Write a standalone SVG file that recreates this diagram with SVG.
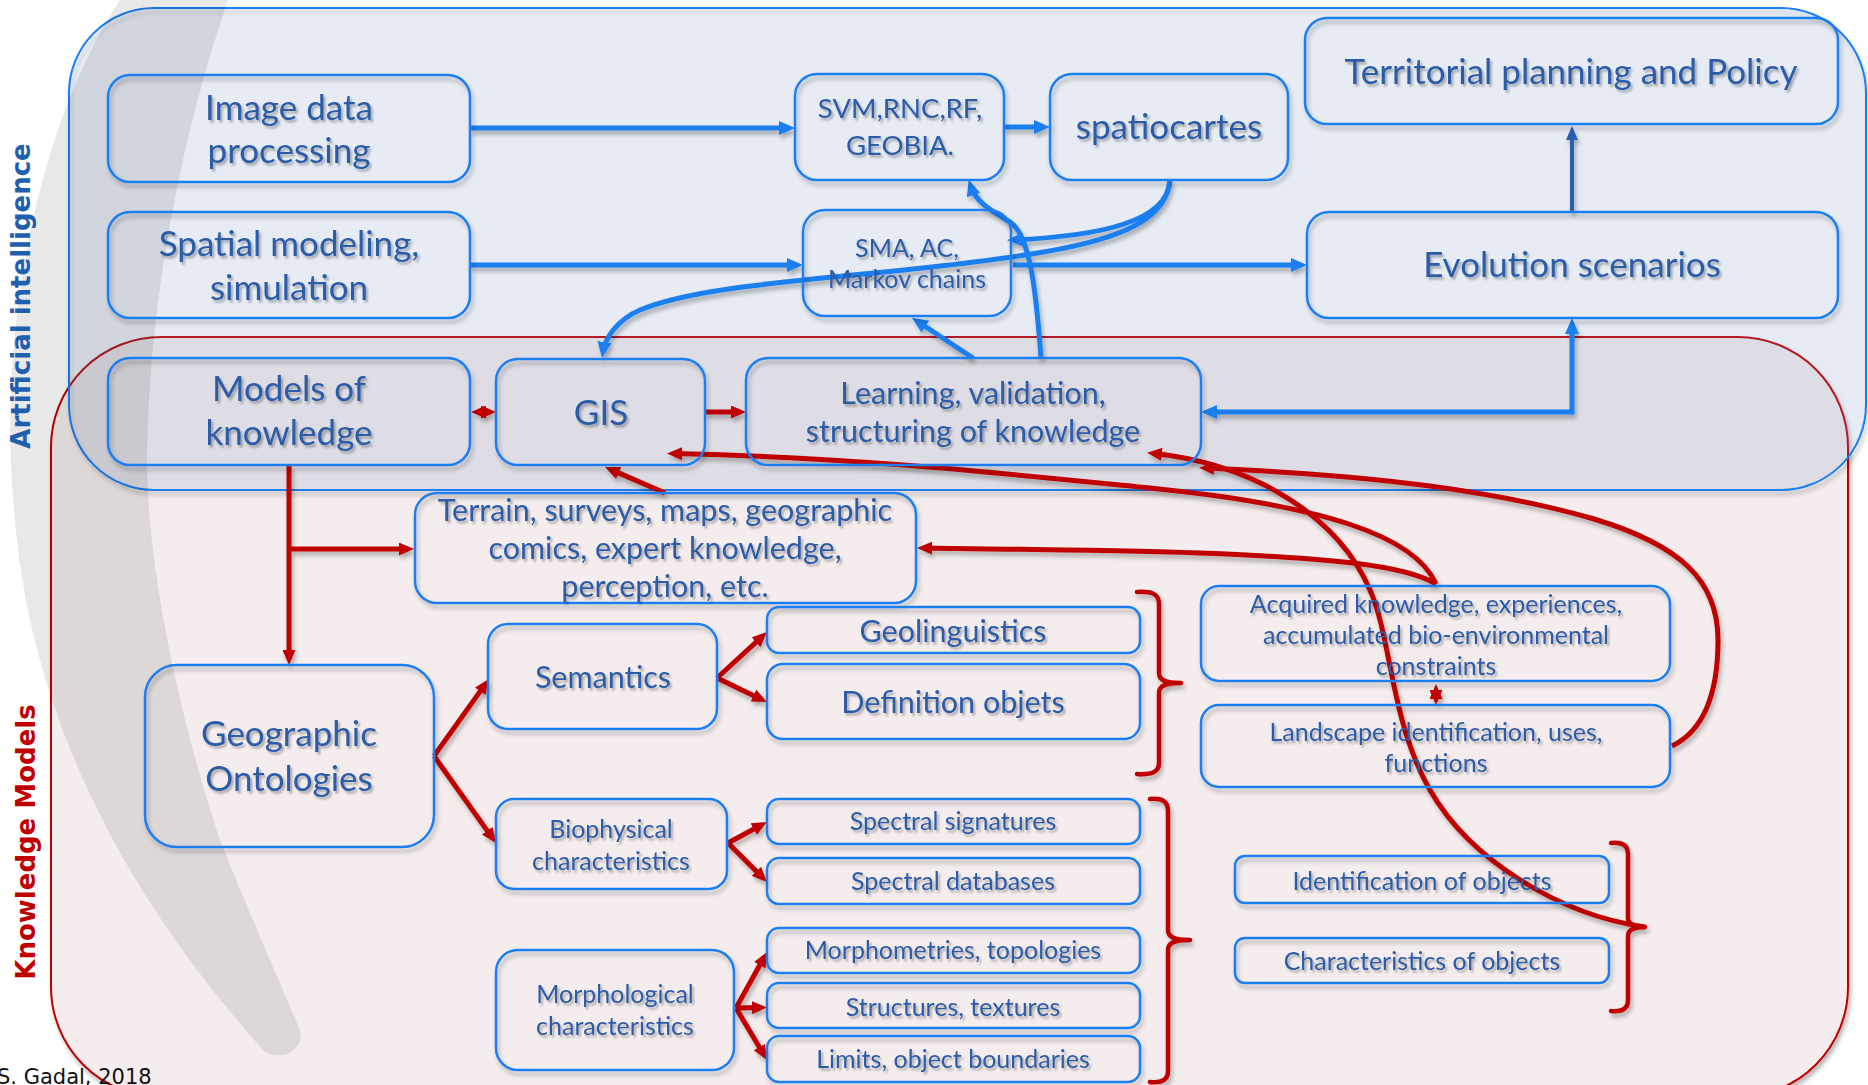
<svg xmlns="http://www.w3.org/2000/svg" width="1868" height="1085" viewBox="0 0 1868 1085">
<defs>
<style>
.box{fill:none;stroke:#1e7ef0;stroke-width:2.5}
.t{font-family:Lato,"Open Sans",sans-serif;fill:#2c5ba8;text-anchor:middle}
.f35{font-size:35px}.f30{font-size:30.5px}.f27{font-size:27.5px}.f25{font-size:25px}
.bl{fill:none;stroke:#1a7ff0;stroke-width:5}
.rd{fill:none;stroke:#c00000;stroke-width:5}
.br{fill:none;stroke:#c00000;stroke-width:4.5;stroke-linecap:round}
.side{font-family:"DejaVu Sans",Verdana,sans-serif;font-weight:bold;font-size:26px;text-anchor:middle}
</style>
<filter id="sh" x="-10%" y="-10%" width="130%" height="140%">
<feDropShadow dx="2" dy="4" stdDeviation="2.2" flood-color="#000" flood-opacity="0.28"/>
</filter>
<filter id="tsh" x="-5%" y="-20%" width="110%" height="150%">
<feDropShadow dx="2" dy="2.5" stdDeviation="1.3" flood-color="#000" flood-opacity="0.3"/>
</filter>
<marker id="ab" viewBox="0 0 16 14" refX="10" refY="7" markerWidth="16" markerHeight="14" markerUnits="userSpaceOnUse" orient="auto-start-reverse">
<path d="M0,0 L16,7 L0,14 z" fill="#1a7ff0"/>
</marker>
<marker id="ad" viewBox="0 0 14 12" refX="9" refY="6" markerWidth="14" markerHeight="12" markerUnits="userSpaceOnUse" orient="auto-start-reverse">
<path d="M0,0 L14,6 L0,12 z" fill="#2a5fae"/>
</marker>
<marker id="ar" viewBox="0 0 15 13" refX="9" refY="6.5" markerWidth="15" markerHeight="13" markerUnits="userSpaceOnUse" orient="auto-start-reverse">
<path d="M0,0 L15,6.5 L0,13 z" fill="#c00000"/>
</marker>
</defs>

<rect width="1868" height="1085" fill="#ffffff"/>

<!-- containers -->
<g id="km-container">
<rect x="51" y="337" width="1797" height="760" rx="110" fill="#f5eded" stroke="#c00000" stroke-width="2" filter="url(#sh)"/>
</g>
<g id="ai-container">
<rect x="69" y="8" width="1797" height="482" rx="85" fill="rgb(135,162,215)" fill-opacity="0.15" stroke="#1a7ff0" stroke-width="2" filter="url(#sh)"/>
</g>
<path id="crescent" d="M120,0 C40,120 -5,330 15,520 C30,700 110,880 265,1052 C285,1062 305,1048 300,1030 C270,960 240,890 220,840 C180,720 145,560 147,450 C150,300 180,140 228,0 Z" fill="#000" fill-opacity="0.09"/>

<text class="side" fill="#1f5fb0" transform="translate(30,296) rotate(-90)">Artificial intelligence</text>
<text class="side" fill="#c00000" transform="translate(35,842) rotate(-90)">Knowledge Models</text>

<!-- connectors -->
<g id="connectors" filter="url(#sh)">
<path class="bl" d="M470,128 H789" marker-end="url(#ab)"/>
<path class="bl" d="M1004,127 H1044" marker-end="url(#ab)"/>
<path class="bl" d="M470,265 H797" marker-end="url(#ab)"/>
<path class="bl" d="M1013,265 H1301" marker-end="url(#ab)"/>
<path d="M1572,212 V131" fill="none" stroke="#2a5fae" stroke-width="4" marker-end="url(#ad)"/>
<path class="bl" d="M1572,324 V412 H1207" marker-start="url(#ab)" marker-end="url(#ab)"/>
<path class="bl" d="M973,358 L917,321" marker-end="url(#ab)"/>
<path class="bl" d="M1041,358 C1036,290 1030,235 1010,222 C992,211 976,203 970.5,185.5" marker-end="url(#ab)"/>
<path class="bl" d="M1170,180 C1168,222 1100,236 1013,240" marker-end="url(#ab)"/>
<path class="bl" d="M1170,180 C1165,235 1080,250 940,266 C820,280 700,285 640,310 C617,320 605,338 603,352" marker-end="url(#ab)"/>

<path class="rd" d="M477,412 L490,412" marker-start="url(#ar)" marker-end="url(#ar)"/>
<path class="rd" d="M705,412 L740,412" marker-end="url(#ar)"/>
<path class="rd" d="M289,465 V659" marker-end="url(#ar)"/>
<path class="rd" d="M289,549 H408" marker-end="url(#ar)"/>
<path class="rd" d="M665,493 L610.5,469.4" marker-end="url(#ar)"/>
<path class="rd" d="M1436,584 C1415,535 1320,505 1150,488 C1000,473 850,457 673,453.5" marker-end="url(#ar)"/>
<path class="rd" d="M1645,927 C1560,915 1470,860 1430,790 C1390,720 1392,640 1370,590 C1340,520 1260,465 1153,453.3" marker-end="url(#ar)"/>
<path class="rd" d="M1672,746 C1705,730 1718,690 1718,640 C1718,580 1680,545 1594,519 C1500,492 1380,475 1205,468" marker-end="url(#ar)"/>
<path class="rd" d="M1436,584 C1405,565 1330,558 1200,553 C1100,550 1000,549 923,548" marker-end="url(#ar)"/>
<path class="rd" d="M1436,690 V699" marker-start="url(#ar)" marker-end="url(#ar)"/>
<path class="rd" d="M434,756 L485.5,683.9" marker-end="url(#ar)"/>
<path class="rd" d="M434,756 L492.5,838.1" marker-end="url(#ar)"/>
<path class="rd" d="M717,678 L762.6,636.1" marker-end="url(#ar)"/>
<path class="rd" d="M717,678 L761.6,699.4" marker-end="url(#ar)"/>
<path class="rd" d="M728,843 L761.7,824.8" marker-end="url(#ar)"/>
<path class="rd" d="M728,843 L762.8,877.8" marker-end="url(#ar)"/>
<path class="rd" d="M736,1008 L764.1,957.3" marker-end="url(#ar)"/>
<path class="rd" d="M736,1008 L761,1007.5" marker-end="url(#ar)"/>
<path class="rd" d="M736,1008 L763.9,1054.8" marker-end="url(#ar)"/>

<path class="br" d="M1137,592 C1152,591 1159,594 1159,604 L1159,673 C1159,680 1165,683 1181,683 M1181,683 C1165,683 1159,686 1159,693 L1159,763 C1159,772 1152,775 1137,774"/>
<path class="br" d="M1150,799 C1162,798 1168,801 1168,811 L1168,930 C1168,937 1174,940 1190,940 M1190,940 C1174,940 1168,943 1168,950 L1168,1071 C1168,1080 1162,1083 1150,1082"/>
<path class="br" d="M1611,843 C1622,842 1628,845 1628,854 L1628,918 C1628,924 1633,927 1645,927 M1645,927 C1633,927 1628,930 1628,936 L1628,1000 C1628,1009 1622,1012 1611,1011"/>
</g>

<!-- nodes -->
<g filter="url(#sh)">
<g id="n-image"><rect class="box" x="108" y="75" width="362" height="107" rx="22"/></g>
<g id="n-spatial"><rect class="box" x="108" y="212" width="362" height="106" rx="22"/></g>
<g id="n-models"><rect class="box" x="108" y="358" width="362" height="107" rx="22"/></g>
<g id="n-gis"><rect class="box" x="496" y="359" width="209" height="106" rx="22"/></g>
<g id="n-svm"><rect class="box" x="795" y="74" width="209" height="106" rx="22"/></g>
<g id="n-spatio"><rect class="box" x="1050" y="74" width="238" height="106" rx="22"/></g>
<g id="n-terr"><rect class="box" x="1305" y="18" width="533" height="106" rx="22"/></g>
<g id="n-sma"><rect class="box" x="803" y="210" width="208" height="106" rx="22"/></g>
<g id="n-evol"><rect class="box" x="1307" y="212" width="531" height="106" rx="22"/></g>
<g id="n-learn"><rect class="box" x="746" y="358" width="455" height="107" rx="22"/></g>
<g id="n-terrain"><rect class="box" x="415" y="493" width="501" height="110" rx="22"/></g>
<g id="n-sem"><rect class="box" x="488" y="624" width="229" height="105" rx="20"/></g>
<g id="n-geol"><rect class="box" x="767" y="607" width="373" height="46" rx="12"/></g>
<g id="n-def"><rect class="box" x="767" y="664" width="373" height="75" rx="16"/></g>
<g id="n-geo"><rect class="box" x="145" y="665" width="289" height="182" rx="32"/></g>
<g id="n-bio"><rect class="box" x="496" y="799" width="231" height="90" rx="18"/></g>
<g id="n-specsig"><rect class="box" x="767" y="799" width="373" height="45" rx="12"/></g>
<g id="n-specdb"><rect class="box" x="767" y="858" width="373" height="46" rx="12"/></g>
<g id="n-morpho"><rect class="box" x="496" y="950" width="238" height="120" rx="22"/></g>
<g id="n-morphom"><rect class="box" x="767" y="928" width="373" height="45" rx="12"/></g>
<g id="n-struct"><rect class="box" x="767" y="983" width="373" height="45" rx="12"/></g>
<g id="n-limits"><rect class="box" x="767" y="1036" width="373" height="46" rx="12"/></g>
<g id="n-acq"><rect class="box" x="1201" y="586" width="469" height="95" rx="18"/></g>
<g id="n-land"><rect class="box" x="1201" y="705" width="469" height="82" rx="18"/></g>
<g id="n-ident"><rect class="box" x="1235" y="856" width="374" height="47" rx="10"/></g>
<g id="n-charac"><rect class="box" x="1235" y="938" width="374" height="45" rx="10"/></g>
</g>

<!-- labels -->
<g id="labels" class="t" filter="url(#tsh)">
<text class="f35" x="289" y="120">Image data</text>
<text class="f35" x="289" y="163">processing</text>
<text class="f35" x="289" y="256">Spatial modeling,</text>
<text class="f35" x="289" y="300">simulation</text>
<text class="f35" x="289" y="401">Models of</text>
<text class="f35" x="289" y="445">knowledge</text>
<text class="f35" x="601" y="425">GIS</text>
<text class="f27" x="900" y="118">SVM,RNC,RF,</text>
<text class="f27" x="900" y="155">GEOBIA.</text>
<text class="f35" x="1169" y="139">spatiocartes</text>
<text class="f35" x="1571" y="84">Territorial planning and Policy</text>
<text class="f25" x="907" y="257">SMA, AC,</text>
<text class="f25" x="907" y="288">Markov chains</text>
<text class="f35" x="1572" y="277">Evolution scenarios</text>
<text class="f30" x="973" y="404">Learning, validation,</text>
<text class="f30" x="973" y="442">structuring of knowledge</text>
<text class="f30" x="665" y="521">Terrain, surveys, maps, geographic</text>
<text class="f30" x="665" y="559">comics, expert knowledge,</text>
<text class="f30" x="665" y="597">perception, etc.</text>
<text class="f30" x="603" y="688">Semantics</text>
<text class="f30" x="953" y="642">Geolinguistics</text>
<text class="f30" x="953" y="713">Definition objets</text>
<text class="f35" x="289" y="746">Geographic</text>
<text class="f35" x="289" y="791">Ontologies</text>
<text class="f25" x="611" y="838">Biophysical</text>
<text class="f25" x="611" y="870">characteristics</text>
<text class="f25" x="953" y="830">Spectral signatures</text>
<text class="f25" x="953" y="890">Spectral databases</text>
<text class="f25" x="615" y="1003">Morphological</text>
<text class="f25" x="615" y="1035">characteristics</text>
<text class="f25" x="953" y="959">Morphometries, topologies</text>
<text class="f25" x="953" y="1016">Structures, textures</text>
<text class="f25" x="953" y="1068">Limits, object boundaries</text>
<text class="f25" x="1436" y="613">Acquired knowledge, experiences,</text>
<text class="f25" x="1436" y="644">accumulated bio-environmental</text>
<text class="f25" x="1436" y="675">constraints</text>
<text class="f25" x="1436" y="741">Landscape identification, uses,</text>
<text class="f25" x="1436" y="772">functions</text>
<text class="f25" x="1422" y="890">Identification of objects</text>
<text class="f25" x="1422" y="970">Characteristics of objects</text>
</g>

<text x="-3" y="1084" font-family="'DejaVu Sans',Verdana,sans-serif" font-size="21" fill="#111">S. Gadal, 2018</text>
</svg>
